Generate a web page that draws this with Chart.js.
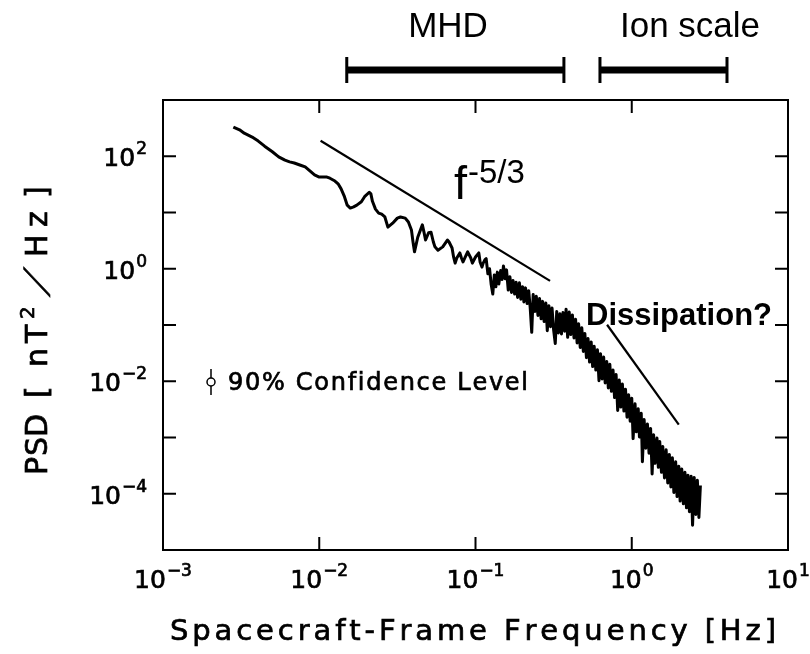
<!DOCTYPE html>
<html>
<head>
<meta charset="utf-8">
<script src="https://cdn.jsdelivr.net/npm/chart.js@4.4.1/dist/chart.umd.min.js"></script>
<style>
  html, body { margin: 0; padding: 0; background: #fff; }
  #plot { display: block; }
</style>
</head>
<body>
<canvas id="plot" width="810" height="654"></canvas>
<script>
// magnetic field power spectrum
const spectrumFreq = [
  0.00282, 0.00309, 0.00331, 0.00372, 0.00407, 0.00447, 0.00501, 0.00550, 0.00603, 0.00646,
  0.00692, 0.00759, 0.00813, 0.00871, 0.00933, 0.0100, 0.0105, 0.0112, 0.0117, 0.0126,
  0.0132, 0.0138, 0.0145, 0.0151, 0.0158, 0.0166, 0.0174, 0.0186, 0.0195, 0.0209,
  0.0214, 0.0219, 0.0229, 0.0240, 0.0251, 0.0263, 0.0275, 0.0295, 0.0316, 0.0331,
  0.0355, 0.0372, 0.0389, 0.0398, 0.0407, 0.0427, 0.0457, 0.0468, 0.0479, 0.0501,
  0.0519, 0.0537, 0.0550, 0.0575, 0.0617, 0.0661, 0.0676, 0.0708, 0.0724, 0.0741,
  0.0759, 0.0794, 0.0813, 0.0832, 0.0871, 0.0891, 0.0933, 0.0955, 0.100, 0.105,
  0.107, 0.110, 0.112, 0.115,
  0.117, 0.120, 0.123, 0.126, 0.129, 0.132, 0.135, 0.138, 0.141, 0.145,
  0.148, 0.151, 0.155, 0.158, 0.162, 0.166, 0.170, 0.174, 0.178, 0.182,
  0.186, 0.191, 0.195, 0.200, 0.204, 0.209, 0.214, 0.219, 0.224, 0.229,
  0.234, 0.240, 0.245, 0.251, 0.257, 0.263, 0.269, 0.275, 0.282, 0.288,
  0.295, 0.302, 0.309, 0.316, 0.324, 0.331, 0.339, 0.347, 0.355, 0.363,
  0.372, 0.380, 0.389, 0.398, 0.407, 0.417, 0.427, 0.437, 0.447, 0.457,
  0.468, 0.479, 0.490, 0.501, 0.513, 0.525, 0.537, 0.550, 0.562, 0.575,
  0.589, 0.603, 0.617, 0.631, 0.646, 0.661, 0.676, 0.692, 0.708, 0.724,
  0.741, 0.759, 0.776, 0.794, 0.813, 0.832, 0.851, 0.871, 0.891, 0.912,
  0.933, 0.955, 0.977, 1.00, 1.02, 1.05, 1.07, 1.10, 1.12, 1.15,
  1.17, 1.20, 1.23, 1.26, 1.29, 1.32, 1.35, 1.38, 1.41, 1.45,
  1.48, 1.51, 1.55, 1.58, 1.62, 1.66, 1.70, 1.74, 1.78, 1.82,
  1.86, 1.91, 1.95, 2.00, 2.04, 2.09, 2.14, 2.19, 2.24, 2.29,
  2.34, 2.40, 2.45, 2.51, 2.57, 2.63, 2.69, 2.75,
];

const spectrumPsd = [
  331, 295, 257, 219, 186, 151, 120, 97.7, 85.1, 79.4,
  75.9, 69.2, 64.6, 55.0, 46.8, 42.7, 42.7, 42.7, 40.7, 36.3,
  32.4, 26.3, 19.1, 13.5, 12.0, 12.6, 13.5, 15.5, 19.1, 22.9,
  21.4, 15.8, 11.5, 9.77, 9.33, 8.32, 5.50, 6.46, 7.94, 8.32,
  7.94, 6.76, 4.90, 3.02, 2.00, 3.63, 6.03, 4.47, 3.24, 4.37,
  4.47, 3.02, 2.45, 2.14, 2.45, 3.24, 3.02, 2.34, 1.62, 1.26,
  1.55, 1.91, 1.55, 1.32, 1.74, 2.00, 1.55, 1.26, 1.62, 1.91,
  1.32, 1.07, 1.26, 1.45,
  1.51, 0.813, 1.00, 0.525, 0.355, 0.776, 0.479, 0.871, 0.537, 0.933,
  0.646, 1.12, 0.661, 0.955, 0.417, 0.724, 0.380, 0.617, 0.355, 0.575,
  0.309, 0.562, 0.288, 0.479, 0.257, 0.457, 0.240, 0.407, 0.200, 0.0741,
  0.347, 0.174, 0.324, 0.148, 0.295, 0.129, 0.263, 0.115, 0.245, 0.0794,
  0.219, 0.0933, 0.200, 0.0832, 0.0468, 0.174, 0.0724, 0.158, 0.0692, 0.166,
  0.0776, 0.191, 0.0603, 0.170, 0.0676, 0.151, 0.0589, 0.126, 0.0479, 0.105,
  0.0398, 0.0891, 0.0339, 0.0708, 0.0263, 0.0575, 0.0219, 0.0501, 0.0182, 0.0417,
  0.0158, 0.0363, 0.0102, 0.0309, 0.0110, 0.0269, 0.00933, 0.0224, 0.00759, 0.0200,
  0.00661, 0.0158, 0.00513, 0.0132, 0.00302, 0.0105, 0.00347, 0.00891, 0.00295, 0.00724,
  0.00229, 0.00575, 0.00195, 0.00501, 0.000955, 0.00398, 0.00126, 0.00324, 0.00102, 0.00269,
  0.000372, 0.00209, 0.000646, 0.00174, 0.000525, 0.00145, 0.000224, 0.00112, 0.000347, 0.000977,
  0.000295, 0.000851, 0.000240, 0.000692, 0.000191, 0.000603, 0.000155, 0.000501, 0.000132, 0.000437,
  0.000105, 0.000372, 0.0000891, 0.000309, 0.0000741, 0.000275, 0.0000661, 0.000240, 0.0000562, 0.000214,
  0.0000479, 0.000204, 0.0000275, 0.000195, 0.0000427, 0.000174, 0.0000380, 0.000141,
];

// reference power-law lines
const inertialLineFreq = [0.0102, 0.300];
const inertialLinePsd = [189, 0.61];
const dissipationLineFreq = [0.695, 2.0];
const dissipationLinePsd = [0.101, 0.00169];

// frequency ranges shown above the plot
const rangeNames = ["MHD", "Ion scale"];
const rangeStart = [0.0150, 0.626];
const rangeEnd = [0.368, 4.07];

// axis decades
const xMin = 1e-3;
const xMax = 1e1;
const yMin = 1e-5;
const yMax = 1e3;
const xLabelExponents = [-3, -2, -1, 0, 1];
const xTickExponents = [-2, -1, 0];
const yLabelExponents = [2, 0, -2, -4];
const yTickExponents = [2, 1, 0, -1, -2, -3, -4];

const tickFont = '"DejaVu Sans", sans-serif';
const annotFont = '"Liberation Sans", Arial, sans-serif';

// y title glyphs: offset along the (rotated) baseline, measured from the bottom end
const yTitleGlyphs = [
  { ch: "P", at: 0 }, { ch: "S", at: 19 }, { ch: "D", at: 38 },
  { ch: "[", at: 77 }, { ch: "n", at: 108 }, { ch: "T", at: 132 },
  { ch: "2", at: 156, sup: true }, { ch: "/", at: 180, skew: 0.75 }, { ch: "H", at: 218 },
  { ch: "z", at: 248 }, { ch: "]", at: 277 },
];

function toPoints(xs, ys) {
  return xs.map((x, i) => ({ x: x, y: ys[i] }));
}

// scanned plotter text looks heavier: fill plus a thin stroke
function inkText(ctx, text, x, y) {
  ctx.fillText(text, x, y);
  ctx.strokeText(text, x, y);
}

function drawPower(ctx, exponent, x, y, align) {
  const base = "10";
  const sup = exponent < 0 ? "\u2212" + Math.abs(exponent) : String(exponent);
  ctx.font = `25px ${tickFont}`;
  const baseWidth = ctx.measureText(base).width;
  ctx.font = `17px ${tickFont}`;
  const supWidth = ctx.measureText(sup).width;
  const total = baseWidth + 1 + supWidth;
  const left = align === "center" ? x - total / 2 : x - total;
  ctx.textAlign = "left";
  ctx.font = `25px ${tickFont}`;
  inkText(ctx, base, left, y);
  ctx.font = `17px ${tickFont}`;
  inkText(ctx, sup, left + baseWidth + 1, y - 12);
}

// draws characters one by one, spread to fill the given width
function drawSpaced(ctx, text, font, x, y, width) {
  ctx.font = font;
  const glyphs = Array.from(text).map((ch) => ({ ch: ch, w: ctx.measureText(ch).width }));
  const natural = glyphs.reduce((s, g) => s + g.w, 0);
  const gap = glyphs.length > 1 ? (width - natural) / (glyphs.length - 1) : 0;
  let cx = x;
  ctx.textAlign = "left";
  glyphs.forEach((g) => {
    inkText(ctx, g.ch, cx, y);
    cx += g.w + gap;
  });
}

const framePlugin = {
  id: "spectrumFrame",
  afterDraw(chart) {
    const ctx = chart.ctx;
    const area = chart.chartArea;
    const xScale = chart.scales.x;
    const yScale = chart.scales.y;

    ctx.save();
    ctx.strokeStyle = "#000";
    ctx.fillStyle = "#000";

    // box
    ctx.lineWidth = 2;
    ctx.strokeRect(area.left, area.top, area.right - area.left, area.bottom - area.top);

    // inward ticks on all four sides
    const tickLen = 13;
    ctx.beginPath();
    xTickExponents.forEach((e) => {
      const px = xScale.getPixelForValue(Math.pow(10, e));
      ctx.moveTo(px, area.bottom);
      ctx.lineTo(px, area.bottom - tickLen);
      ctx.moveTo(px, area.top);
      ctx.lineTo(px, area.top + tickLen);
    });
    yTickExponents.forEach((e) => {
      const py = yScale.getPixelForValue(Math.pow(10, e));
      ctx.moveTo(area.left, py);
      ctx.lineTo(area.left + tickLen, py);
      ctx.moveTo(area.right, py);
      ctx.lineTo(area.right - tickLen, py);
    });
    ctx.stroke();

    // tick labels
    ctx.lineWidth = 0.7;
    ctx.textBaseline = "alphabetic";
    xLabelExponents.forEach((e) => {
      const px = xScale.getPixelForValue(Math.pow(10, e));
      drawPower(ctx, e, px, area.bottom + 38, "center");
    });
    yLabelExponents.forEach((e) => {
      const py = yScale.getPixelForValue(Math.pow(10, e));
      drawPower(ctx, e, area.left - 16, py + 10, "right");
    });

    // axis titles
    drawSpaced(ctx, "Spacecraft-Frame Frequency [Hz]", `29px ${tickFont}`, 170, 640, 606);

    ctx.save();
    ctx.translate(47, 475);
    ctx.rotate(-Math.PI / 2);
    ctx.textAlign = "left";
    yTitleGlyphs.forEach((g) => {
      if (g.sup) {
        ctx.font = `20px ${tickFont}`;
        inkText(ctx, g.ch, g.at, -13);
      } else if (g.skew) {
        // the plotter slash leans much further than the font's
        ctx.font = `32px ${tickFont}`;
        ctx.save();
        ctx.translate(g.at, 0);
        ctx.transform(1, 0, -g.skew, 1, 0, 0);
        inkText(ctx, g.ch, 0, 0);
        ctx.restore();
      } else {
        ctx.font = `30px ${tickFont}`;
        inkText(ctx, g.ch, g.at, 0);
      }
    });
    ctx.restore();

    // confidence level marker
    ctx.lineWidth = 1.5;
    ctx.beginPath();
    ctx.moveTo(211, 369);
    ctx.lineTo(211, 378);
    ctx.moveTo(211, 386);
    ctx.lineTo(211, 395);
    ctx.stroke();
    ctx.beginPath();
    ctx.arc(211, 382, 4, 0, Math.PI * 2);
    ctx.stroke();
    ctx.lineWidth = 0.7;
    drawSpaced(ctx, "90% Confidence Level", `24px ${tickFont}`, 228, 390, 300);

    // power law labels
    ctx.textAlign = "left";
    ctx.font = `47px ${annotFont}`;
    ctx.fillText("f", 454, 199);
    ctx.font = `33px ${annotFont}`;
    ctx.fillText("-5/3", 468, 183);
    ctx.font = `bold 31px ${annotFont}`;
    ctx.fillText("Dissipation?", 586, 325);

    // range bars above the frame
    rangeNames.forEach((name, i) => {
      const x0 = xScale.getPixelForValue(rangeStart[i]);
      const x1 = xScale.getPixelForValue(rangeEnd[i]);
      ctx.lineWidth = 7;
      ctx.beginPath();
      ctx.moveTo(x0, 70);
      ctx.lineTo(x1, 70);
      ctx.stroke();
      ctx.lineWidth = 3;
      ctx.beginPath();
      ctx.moveTo(x0, 57);
      ctx.lineTo(x0, 83);
      ctx.moveTo(x1, 57);
      ctx.lineTo(x1, 83);
      ctx.stroke();
    });
    ctx.font = `35px ${annotFont}`;
    ctx.textAlign = "center";
    ctx.fillText(rangeNames[0], 448, 37);
    ctx.fillText(rangeNames[1], 690, 37);

    ctx.restore();
  },
};

new Chart(document.getElementById("plot"), {
  type: "line",
  data: {
    datasets: [
      {
        label: "PSD",
        data: toPoints(spectrumFreq, spectrumPsd),
        borderColor: "#000",
        borderWidth: 3,
        borderJoinStyle: "round",
        pointRadius: 0,
        tension: 0,
      },
      {
        label: "f^-5/3",
        data: toPoints(inertialLineFreq, inertialLinePsd),
        borderColor: "#000",
        borderWidth: 2.2,
        pointRadius: 0,
      },
      {
        label: "Dissipation",
        data: toPoints(dissipationLineFreq, dissipationLinePsd),
        borderColor: "#000",
        borderWidth: 2.2,
        pointRadius: 0,
      },
    ],
  },
  plugins: [framePlugin],
  options: {
    responsive: false,
    animation: false,
    layout: {
      padding: { left: 163, right: 22, top: 100, bottom: 104 },
    },
    plugins: {
      legend: { display: false },
      tooltip: { enabled: false },
    },
    scales: {
      x: { type: "logarithmic", min: xMin, max: xMax, display: false },
      y: { type: "logarithmic", min: yMin, max: yMax, display: false },
    },
  },
});
</script>
</body>
</html>
